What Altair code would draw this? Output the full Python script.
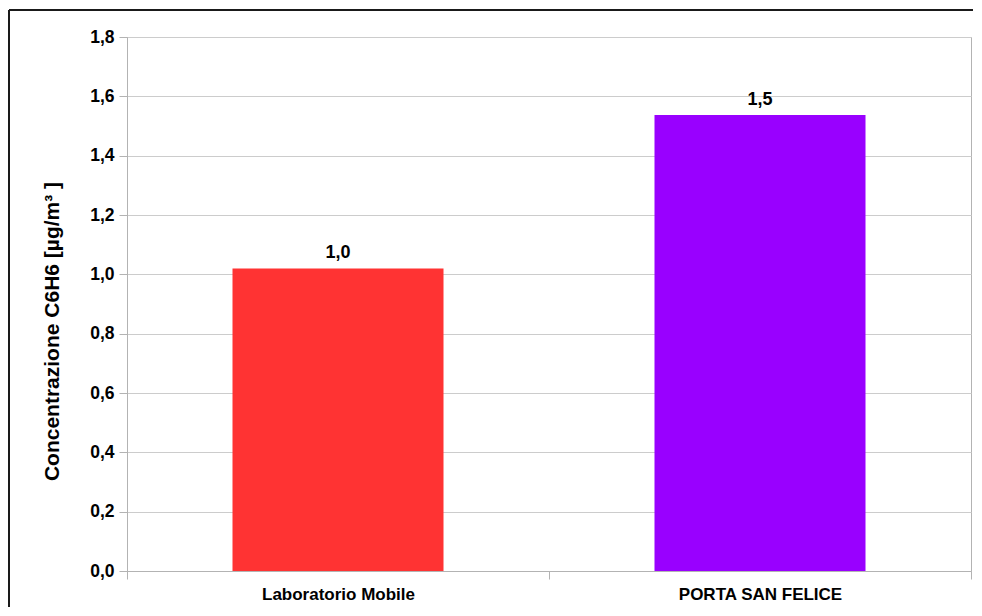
import altair as alt
import pandas as pd

categories = ["Laboratorio Mobile", "PORTA SAN FELICE"]
values = [1.02, 1.537]
colors = ["#FF3333", "#9900FF"]
y_ticks = [0, 0.2, 0.4, 0.6, 0.8, 1.0, 1.2, 1.4, 1.6, 1.8]

df = pd.DataFrame({"cat": categories, "val": values, "col": colors})

W, H = 844, 534
PAD_L, PAD_T = 119, 29

base = alt.Chart(df).transform_calculate(
    lab="replace(format(datum.val, '.1f'), '.', ',')"
)

x_enc = alt.X(
    "cat:N",
    sort=categories,
    title=None,
    scale=alt.Scale(paddingInner=0, paddingOuter=0),
    axis=alt.Axis(
        tickBand="extent",
        labelAngle=0,
        labelFont="Liberation Sans",
        labelFontWeight="bold",
        labelFontSize=17,
        labelColor="#000000",
        labelPadding=7,
        tickSize=8,
        tickColor="#b3b3b3",
        domainColor="#b3b3b3",
        grid=False,
    ),
)

y_enc = alt.Y(
    "val:Q",
    scale=alt.Scale(domain=[0, 1.8], nice=False),
    axis=alt.Axis(
        values=y_ticks,
        labelExpr="replace(format(datum.value, '.1f'), '.', ',')",
        labelFont="Liberation Sans",
        labelFontWeight="bold",
        labelFontSize=17.5,
        labelColor="#000000",
        labelPadding=5,
        tickSize=8,
        tickColor="#b3b3b3",
        domainColor="#b3b3b3",
        gridColor="#cccccc",
        title="Concentrazione C6H6 [µg/m³ ]",
        titleFont="Liberation Sans",
        titleFontWeight="bold",
        titleFontSize=21,
        titleColor="#000000",
        titleAngle=270,
        titleAlign="center",
        titleBaseline="middle",
        titleX=-75,
        titleY=294,
    ),
)

bars = base.mark_bar(width=alt.RelativeBandSize(0.5)).encode(
    x=x_enc,
    y=y_enc,
    color=alt.Color("col:N", scale=None),
)

labels = base.mark_text(
    baseline="alphabetic",
    dy=-10,
    font="Liberation Sans",
    fontWeight="bold",
    fontSize=18,
    color="#000000",
).encode(x=alt.X("cat:N", sort=categories), y="val:Q", text="lab:N")

frame = alt.Chart(df).mark_rule(color="#1a1a1a", strokeWidth=2, clip=False).encode(
    x=alt.value(-PAD_L + 1), y=alt.value(-PAD_T + 2), x2=alt.value(W + 200)
)
frame2 = alt.Chart(df).mark_rule(color="#1a1a1a", strokeWidth=2, clip=False).encode(
    x=alt.value(-PAD_L + 1), y=alt.value(-PAD_T + 2), y2=alt.value(H + 200)
)

chart = (
    alt.layer(bars, labels, frame, frame2)
    .properties(
        width=W,
        height=H,
        padding={"left": PAD_L, "top": PAD_T, "right": 2, "bottom": 36},
        autosize=alt.AutoSizeParams(type="none"),
        background="#ffffff",
    )
    .configure_view(stroke="#b3b3b3", strokeWidth=1)
)

chart.save("out.html", embed_options={"renderer": "svg", "actions": False})
